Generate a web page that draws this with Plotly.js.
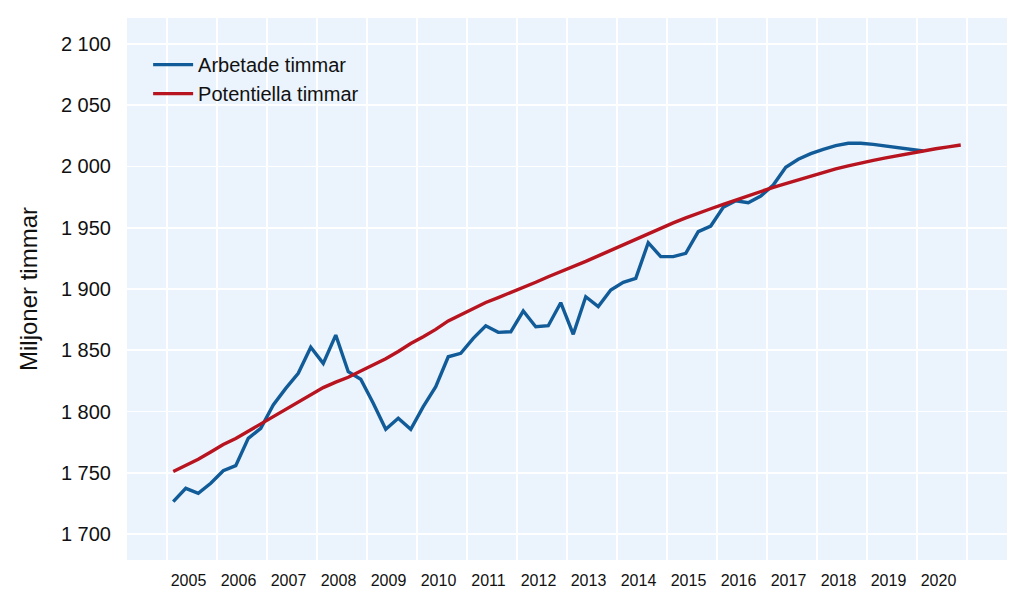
<!DOCTYPE html>
<html>
<head>
<meta charset="utf-8">
<script src="https://cdn.plot.ly/plotly-3.0.1.min.js"></script>
<style>
  html, body { margin: 0; padding: 0; background: #ffffff; }
  #chart { width: 1024px; height: 605px; }
</style>
</head>
<body>
<div id="chart"></div>
<script>
// Quarters 2005 K1 .. 2020 K4
const years = [2005, 2006, 2007, 2008, 2009, 2010, 2011, 2012, 2013, 2014, 2015, 2016, 2017, 2018, 2019, 2020];
const quarterNames = [1, 2, 3, 4];

// Arbetade timmar (miljoner), 2005 K1 .. 2020 K1
const arbetadeTimmar = [
  1726.4, 1737.3, 1733.2, 1741.4,
  1751.7, 1755.8, 1778.1, 1786.3,
  1805.3, 1818.9, 1831.2, 1852.4,
  1839.3, 1862.4, 1832.5, 1826.3,
  1806.7, 1785.5, 1794.5, 1785.5,
  1804.0, 1820.2, 1844.7, 1847.5,
  1859.7, 1870.0, 1864.6, 1865.1,
  1882.0, 1869.2, 1870.0, 1888.8,
  1863.0, 1893.7, 1885.6, 1899.2,
  1905.5, 1908.7, 1937.8, 1926.4,
  1926.4, 1929.1, 1946.8, 1951.4,
  1966.7, 1972.0, 1970.4, 1975.9,
  1984.9, 1999.3, 2005.9, 2010.5,
  2014.0, 2017.0, 2019.0, 2019.0,
  2018.0, 2016.7, 2015.4, 2014.1,
  2012.6
];

// Potentiella timmar (miljoner), 2005 K1 .. 2020 K4
const potentiellaTimmar = [
  1751.0, 1756.0, 1761.0, 1767.0,
  1773.0, 1778.0, 1784.0, 1790.0,
  1796.0, 1802.0, 1808.0, 1814.0,
  1819.5, 1824.0, 1828.0, 1833.0,
  1838.0, 1843.0, 1849.0, 1855.5,
  1861.0, 1867.0, 1874.0, 1879.0,
  1884.0, 1889.0, 1893.0, 1897.0,
  1901.0, 1905.5, 1910.0, 1914.0,
  1918.5, 1922.5, 1927.0, 1931.5,
  1936.0, 1941.0, 1945.5, 1950.0,
  1954.0, 1958.0, 1962.0, 1965.5,
  1969.0, 1972.5, 1976.0, 1980.0,
  1983.0, 1986.0, 1989.0, 1992.5,
  1995.5, 1998.0, 2000.5, 2003.0,
  2005.0, 2007.0, 2009.0, 2011.0,
  2013.0, 2014.5, 2016.0, 2017.5
];

const yTickVals = [1700, 1750, 1800, 1850, 1900, 1950, 2000, 2050, 2100];
const yTickText = ["1 700", "1 750", "1 800", "1 850", "1 900", "1 950", "2 000", "2 050", "2 100"];
const xTickText = years.map(String);

// quarter category -> position on a numeric time axis (middle of the quarter)
const quarterPos = [];
years.forEach(y => quarterNames.forEach(q => quarterPos.push(y + (q - 0.5) / 4)));

const yearBoundaries = years.concat([2021]);
const labelPos = years.map(y => y + 0.43);

const font = "Liberation Sans, Arial, sans-serif";

const traces = [
  {
    x: quarterPos.slice(0, arbetadeTimmar.length),
    y: arbetadeTimmar,
    type: "scatter",
    mode: "lines",
    name: "Arbetade timmar",
    line: { color: "#115B98", width: 3.4 }
  },
  {
    x: quarterPos.slice(0, potentiellaTimmar.length),
    y: potentiellaTimmar,
    type: "scatter",
    mode: "lines",
    name: "Potentiella timmar",
    line: { color: "#B8141F", width: 3.4 }
  }
];

const layout = {
  width: 1024,
  height: 605,
  margin: { l: 127, r: 17, t: 18, b: 45 },
  paper_bgcolor: "#ffffff",
  plot_bgcolor: "#EBF4FC",
  font: { family: font, color: "#111111" },
  showlegend: true,
  legend: {
    x: 0.024, y: 0.950, xanchor: "left", yanchor: "top",
    bgcolor: "rgba(0,0,0,0)",
    itemwidth: 40,
    font: { family: font, size: 20, color: "#111111" },
    tracegroupgap: 0
  },
  xaxis: {
    range: [2004.2, 2021.8],
    tickmode: "array",
    tickvals: labelPos,
    ticktext: xTickText,
    showgrid: false,
    zeroline: false,
    showline: false,
    ticks: "",
    tickfont: { family: font, size: 16, color: "#111111" },
    ticklabelstandoff: 9,
    minor: {
      tickmode: "array",
      tickvals: yearBoundaries,
      showgrid: true,
      gridcolor: "#ffffff",
      gridwidth: 1.6,
      ticks: ""
    }
  },
  yaxis: {
    range: [1678.8, 2121.2],
    tickmode: "array",
    tickvals: yTickVals,
    ticktext: yTickText,
    showgrid: true,
    gridcolor: "#ffffff",
    gridwidth: 1.6,
    zeroline: false,
    showline: false,
    ticks: "",
    tickfont: { family: font, size: 20, color: "#111111" },
    ticklabelstandoff: 15,
    title: {
      text: "Miljoner timmar",
      font: { family: font, size: 24, color: "#111111" },
      standoff: 16
    }
  }
};

Plotly.newPlot("chart", traces, layout, { displayModeBar: false, staticPlot: true });
</script>
</body>
</html>
